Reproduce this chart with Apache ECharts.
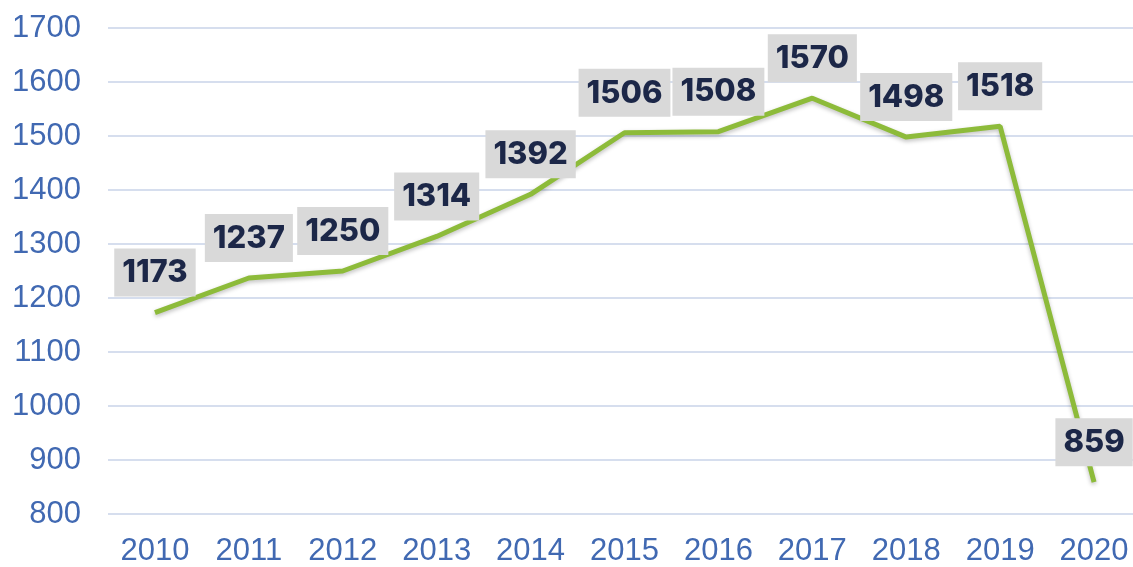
<!DOCTYPE html>
<html>
<head>
<meta charset="utf-8">
<script src="https://cdn.jsdelivr.net/npm/echarts@6/dist/echarts.min.js"></script>
<style>
  html, body { margin: 0; padding: 0; background: #fff; overflow: hidden; }
  /* a bit wider than the window: the plot runs off the right edge like the original */
  #chart { width: 1141px; height: 567px; }
</style>
</head>
<body>
<div id="chart"></div>
<script>
const years = ["2010", "2011", "2012", "2013", "2014", "2015", "2016", "2017", "2018", "2019", "2020"];
const values = [1173, 1237, 1250, 1314, 1392, 1506, 1508, 1570, 1498, 1518, 859];

const axisColor = "#4169b2";

const chart = echarts.init(document.getElementById("chart"));
chart.setOption({
  animation: false,
  grid: {
    left: 108,
    right: 0,
    top: 28,
    bottom: 52,
  },
  xAxis: {
    type: "category",
    boundaryGap: true,
    data: years,
    axisLine: { show: false },
    axisTick: { show: false },
    axisLabel: {
      color: axisColor,
      fontFamily: "Arial, Liberation Sans",
      fontSize: 31,
      margin: 22,
    },
  },
  yAxis: {
    type: "value",
    min: 800,
    max: 1700,
    interval: 100,
    axisLine: { show: false },
    axisTick: { show: false },
    axisLabel: {
      color: axisColor,
      fontFamily: "Arial, Liberation Sans",
      fontSize: 31,
      margin: 27,
      formatter: (v) => String(v),
    },
    splitLine: {
      lineStyle: { color: "#d6deee", width: 2 },
    },
  },
  series: [
    {
      type: "line",
      data: values,
      symbol: "circle",
      symbolSize: 2,
      showSymbol: true,
      itemStyle: { color: "rgba(0,0,0,0)" },
      lineStyle: {
        color: "#8dbb3a",
        width: 5,
        shadowColor: "rgba(0,0,0,0.25)",
        shadowBlur: 4,
        shadowOffsetY: 2,
      },
      label: {
        show: true,
        position: "top",
        distance: 15,
        color: "#1c2748",
        fontFamily: "Inter, Lato",
        fontWeight: 800,
        fontSize: 31,
        lineHeight: 31,
        backgroundColor: "#d9d9d9",
        padding: [9, 8, 8, 8],
      },
      labelLayout: { hideOverlap: false },
    },
  ],
});
</script>
</body>
</html>
